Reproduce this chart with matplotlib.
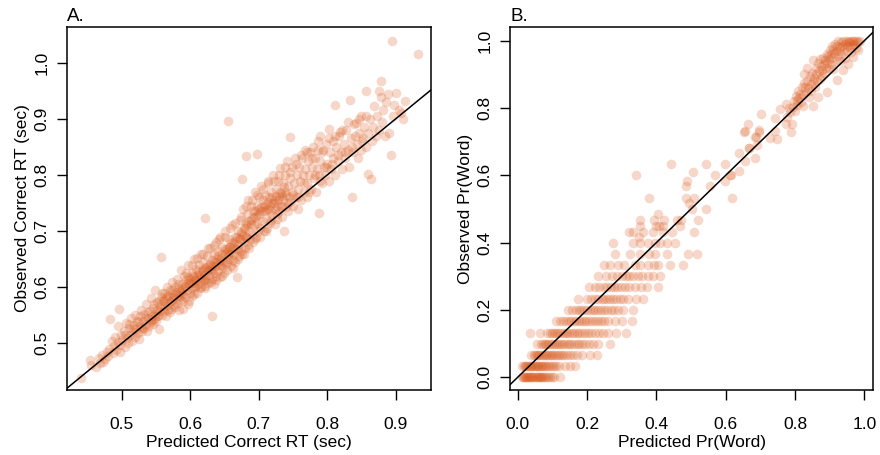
#!/usr/bin/env python3
# Observed vs predicted: correct RT (A) and Pr(Word) (B), identity line.
import matplotlib
matplotlib.use("Agg")
import matplotlib.pyplot as plt
from matplotlib.ticker import FormatStrFormatter
import numpy as np

plt.rcParams["font.family"] = ["Liberation Sans", "DejaVu Sans"]

# ---- Panel A: (predicted RT, observed RT), seconds
a_low = [
    (0.440, 0.439), (0.453, 0.471), (0.455, 0.462), (0.462, 0.458), (0.466, 0.474),
    (0.468, 0.465), (0.473, 0.467), (0.471, 0.480), (0.476, 0.472), (0.478, 0.485),
    (0.480, 0.477), (0.482, 0.490), (0.483, 0.543), (0.485, 0.505), (0.487, 0.482),
    (0.489, 0.495), (0.490, 0.512), (0.492, 0.488), (0.494, 0.503), (0.495, 0.530),
    (0.496, 0.562), (0.497, 0.497), (0.499, 0.515), (0.498, 0.485),
    (0.501, 0.506), (0.503, 0.522), (0.504, 0.494), (0.506, 0.537), (0.507, 0.510),
    (0.509, 0.500), (0.510, 0.528), (0.512, 0.515), (0.513, 0.545), (0.515, 0.505),
    (0.516, 0.521), (0.518, 0.532), (0.519, 0.512), (0.520, 0.550), (0.521, 0.525),
    (0.523, 0.518), (0.524, 0.538), (0.525, 0.508), (0.527, 0.530), (0.528, 0.560),
    (0.529, 0.522),
    (0.531, 0.540), (0.532, 0.527), (0.533, 0.553), (0.535, 0.535), (0.536, 0.570),
    (0.537, 0.522), (0.538, 0.545), (0.540, 0.531), (0.541, 0.558), (0.542, 0.541),
    (0.543, 0.580), (0.544, 0.549), (0.545, 0.535), (0.546, 0.563), (0.547, 0.544),
    (0.548, 0.552), (0.549, 0.595), (0.550, 0.540), (0.551, 0.560), (0.552, 0.573),
    (0.553, 0.548), (0.554, 0.557), (0.555, 0.525), (0.556, 0.566), (0.557, 0.653),
    (0.557, 0.582), (0.558, 0.551), (0.559, 0.562),
]
a_core = [
    (0.560, 0.575), (0.561, 0.557), (0.562, 0.590), (0.563, 0.566), (0.564, 0.548),
    (0.565, 0.580), (0.566, 0.600), (0.567, 0.570), (0.568, 0.560), (0.569, 0.585),
    (0.570, 0.573), (0.571, 0.595), (0.572, 0.562), (0.573, 0.578), (0.574, 0.610),
    (0.575, 0.588), (0.576, 0.568), (0.577, 0.600), (0.578, 0.580), (0.579, 0.592),
    (0.580, 0.572), (0.581, 0.615), (0.582, 0.585), (0.583, 0.560), (0.584, 0.598),
    (0.585, 0.578), (0.586, 0.630), (0.587, 0.592), (0.588, 0.605), (0.589, 0.575),
    (0.590, 0.588), (0.591, 0.620), (0.592, 0.600), (0.593, 0.583), (0.594, 0.612),
    (0.595, 0.595), (0.596, 0.570), (0.597, 0.640), (0.598, 0.605), (0.599, 0.590),
    (0.600, 0.615), (0.601, 0.598), (0.602, 0.625), (0.603, 0.585), (0.604, 0.608),
    (0.605, 0.650), (0.606, 0.618), (0.607, 0.600), (0.608, 0.632), (0.609, 0.612),
    (0.610, 0.590), (0.611, 0.622), (0.612, 0.605), (0.613, 0.640), (0.614, 0.617),
    (0.615, 0.660), (0.616, 0.600), (0.617, 0.628), (0.618, 0.612), (0.619, 0.645),
    (0.620, 0.622), (0.621, 0.603), (0.622, 0.723), (0.622, 0.635), (0.623, 0.615),
    (0.624, 0.655), (0.625, 0.628), (0.626, 0.608), (0.627, 0.640), (0.628, 0.622),
    (0.629, 0.670), (0.630, 0.632), (0.631, 0.615), (0.632, 0.549), (0.632, 0.648),
    (0.633, 0.625), (0.634, 0.605), (0.635, 0.660), (0.636, 0.638), (0.637, 0.620),
    (0.638, 0.680), (0.639, 0.645),
    (0.640, 0.628), (0.641, 0.665), (0.642, 0.640), (0.643, 0.618), (0.644, 0.690),
    (0.645, 0.652), (0.646, 0.635), (0.647, 0.672), (0.648, 0.645), (0.649, 0.625),
    (0.650, 0.660), (0.651, 0.700), (0.652, 0.642), (0.653, 0.668), (0.654, 0.630),
    (0.655, 0.897), (0.655, 0.655), (0.656, 0.685), (0.657, 0.650), (0.658, 0.672),
    (0.659, 0.638), (0.660, 0.662), (0.661, 0.710), (0.662, 0.648), (0.663, 0.678),
    (0.664, 0.660), (0.665, 0.690), (0.666, 0.645), (0.667, 0.668), (0.668, 0.619),
    (0.669, 0.700), (0.670, 0.675), (0.671, 0.655), (0.672, 0.720), (0.673, 0.685),
    (0.674, 0.665), (0.675, 0.792), (0.675, 0.695), (0.676, 0.660), (0.677, 0.740),
    (0.678, 0.680), (0.679, 0.705),
    (0.680, 0.670), (0.681, 0.833), (0.681, 0.715), (0.682, 0.690), (0.683, 0.730),
    (0.684, 0.675), (0.685, 0.755), (0.686, 0.700), (0.687, 0.685), (0.688, 0.720),
    (0.689, 0.745), (0.690, 0.695), (0.691, 0.680), (0.692, 0.735), (0.693, 0.710),
    (0.694, 0.770), (0.695, 0.725), (0.696, 0.690), (0.697, 0.745), (0.698, 0.837),
    (0.698, 0.715), (0.699, 0.700), (0.700, 0.760), (0.701, 0.730), (0.702, 0.690),
    (0.703, 0.742), (0.704, 0.780), (0.705, 0.718), (0.706, 0.755), (0.707, 0.700),
    (0.708, 0.735), (0.709, 0.765), (0.710, 0.722), (0.711, 0.748), (0.712, 0.705),
    (0.713, 0.790), (0.714, 0.740), (0.715, 0.760), (0.716, 0.715), (0.717, 0.735),
    (0.718, 0.770), (0.719, 0.750),
    (0.575, 0.582), (0.583, 0.590), (0.588, 0.596), (0.593, 0.603), (0.596, 0.608),
    (0.601, 0.610), (0.604, 0.620), (0.607, 0.612), (0.611, 0.628), (0.614, 0.622),
    (0.617, 0.617), (0.619, 0.630), (0.623, 0.636), (0.626, 0.630), (0.629, 0.642),
    (0.632, 0.638), (0.635, 0.645), (0.638, 0.650), (0.641, 0.655), (0.644, 0.648),
    (0.647, 0.660), (0.650, 0.668), (0.653, 0.662), (0.656, 0.672), (0.659, 0.678),
    (0.662, 0.672), (0.665, 0.682), (0.668, 0.690), (0.671, 0.685), (0.674, 0.698),
    (0.677, 0.692), (0.680, 0.705), (0.683, 0.710), (0.686, 0.718), (0.689, 0.712),
    (0.692, 0.725), (0.695, 0.735), (0.698, 0.728), (0.701, 0.740), (0.704, 0.735),
    (0.707, 0.745), (0.710, 0.738), (0.713, 0.752), (0.716, 0.745), (0.719, 0.760),
    (0.597, 0.618), (0.609, 0.602), (0.621, 0.612), (0.633, 0.630), (0.645, 0.640),
    (0.657, 0.660), (0.669, 0.668), (0.681, 0.690),
]
a_high = [
    (0.720, 0.728), (0.721, 0.800), (0.722, 0.755), (0.723, 0.712), (0.724, 0.740),
    (0.725, 0.775), (0.726, 0.745), (0.727, 0.722), (0.728, 0.790), (0.729, 0.760),
    (0.730, 0.735), (0.731, 0.812), (0.732, 0.768), (0.733, 0.745), (0.734, 0.725),
    (0.735, 0.785), (0.736, 0.755), (0.737, 0.700), (0.738, 0.800), (0.739, 0.770),
    (0.740, 0.742), (0.741, 0.825), (0.742, 0.780), (0.743, 0.735), (0.744, 0.760),
    (0.745, 0.867), (0.745, 0.795), (0.746, 0.752), (0.748, 0.815), (0.749, 0.770),
    (0.750, 0.745), (0.752, 0.785), (0.753, 0.830), (0.754, 0.760), (0.756, 0.800),
    (0.757, 0.740), (0.758, 0.775), (0.759, 0.815),
    (0.722, 0.750), (0.725, 0.762), (0.728, 0.755), (0.731, 0.770), (0.734, 0.762),
    (0.737, 0.778), (0.740, 0.765),
    (0.760, 0.790), (0.762, 0.755), (0.763, 0.830), (0.764, 0.800), (0.766, 0.770),
    (0.767, 0.845), (0.768, 0.810), (0.770, 0.785), (0.771, 0.760), (0.772, 0.825),
    (0.774, 0.800), (0.775, 0.840), (0.776, 0.775), (0.778, 0.815), (0.779, 0.850),
    (0.780, 0.795), (0.782, 0.830), (0.783, 0.770), (0.785, 0.810), (0.786, 0.845),
    (0.788, 0.732), (0.788, 0.800), (0.789, 0.870), (0.790, 0.825), (0.792, 0.785),
    (0.793, 0.840), (0.795, 0.815), (0.797, 0.800), (0.798, 0.855),
    (0.800, 0.820), (0.802, 0.790), (0.803, 0.882), (0.804, 0.840), (0.806, 0.810),
    (0.808, 0.860), (0.809, 0.830), (0.811, 0.924), (0.812, 0.800), (0.813, 0.850),
    (0.815, 0.825), (0.817, 0.870), (0.819, 0.876), (0.820, 0.840), (0.822, 0.810),
    (0.824, 0.855), (0.826, 0.830), (0.828, 0.880), (0.830, 0.845), (0.832, 0.815),
    (0.833, 0.934), (0.834, 0.865), (0.836, 0.761), (0.837, 0.840), (0.839, 0.890),
    (0.842, 0.892), (0.843, 0.855), (0.845, 0.830), (0.847, 0.875), (0.849, 0.905),
    (0.850, 0.845), (0.852, 0.865), (0.854, 0.885), (0.856, 0.950), (0.857, 0.850),
    (0.859, 0.802), (0.860, 0.875), (0.862, 0.900), (0.864, 0.792), (0.865, 0.860),
    (0.867, 0.885), (0.869, 0.923), (0.871, 0.870), (0.873, 0.905), (0.875, 0.880),
    (0.876, 0.950), (0.878, 0.967), (0.878, 0.938),
    (0.880, 0.895), (0.882, 0.915), (0.884, 0.870), (0.886, 0.930), (0.888, 0.945),
    (0.890, 0.875), (0.893, 0.836), (0.895, 1.039), (0.896, 0.905), (0.898, 0.925),
    (0.901, 0.946), (0.905, 0.915), (0.907, 0.910), (0.910, 0.900), (0.913, 0.932),
    (0.932, 1.015),
]
# further points filling out the width of the band
a_fill = [
    (0.505, 0.515), (0.511, 0.535), (0.517, 0.525), (0.522, 0.540), (0.526, 0.548),
    (0.530, 0.528), (0.534, 0.545), (0.539, 0.555), (0.543, 0.538), (0.547, 0.570),
    (0.551, 0.548), (0.555, 0.575), (0.558, 0.590),
    (0.562, 0.575), (0.566, 0.585), (0.570, 0.555), (0.574, 0.595), (0.578, 0.565),
    (0.582, 0.605), (0.586, 0.585), (0.590, 0.562), (0.594, 0.625), (0.598, 0.575),
    (0.602, 0.640), (0.606, 0.588), (0.610, 0.652), (0.614, 0.598), (0.618, 0.660),
    (0.622, 0.598), (0.626, 0.670), (0.630, 0.610), (0.634, 0.675), (0.638, 0.612),
    (0.642, 0.685),
    (0.646, 0.620), (0.650, 0.690), (0.654, 0.645), (0.658, 0.705), (0.662, 0.635),
    (0.666, 0.715), (0.670, 0.650), (0.674, 0.725), (0.678, 0.660), (0.682, 0.745),
    (0.686, 0.670), (0.690, 0.755), (0.694, 0.685), (0.698, 0.765), (0.702, 0.705),
    (0.706, 0.775), (0.710, 0.700), (0.714, 0.785), (0.718, 0.720),
    (0.722, 0.790), (0.726, 0.730), (0.730, 0.800), (0.734, 0.745), (0.738, 0.815),
    (0.742, 0.750), (0.746, 0.805), (0.750, 0.765), (0.754, 0.820), (0.758, 0.760),
    (0.762, 0.835), (0.766, 0.785), (0.770, 0.840), (0.774, 0.770), (0.778, 0.830),
    (0.782, 0.800), (0.786, 0.860), (0.790, 0.790), (0.794, 0.845), (0.798, 0.815),
    (0.803, 0.865), (0.807, 0.820), (0.812, 0.870), (0.816, 0.835), (0.821, 0.880),
    (0.826, 0.840), (0.831, 0.895), (0.836, 0.850), (0.841, 0.870), (0.846, 0.900),
    (0.851, 0.860), (0.856, 0.905),
]

# ---- Panel B: observed Pr(Word) comes in steps of 1/30; predicted values per row
b_levels = [0.000, 0.033, 0.067, 0.100, 0.133, 0.167, 0.200, 0.233, 0.267, 0.300,
            0.333, 0.367, 0.400, 0.433, 0.467, 0.500, 0.533, 0.567, 0.600, 0.633]
b_rows = [
    [0.012, 0.015, 0.019, 0.022, 0.024, 0.028, 0.031, 0.033, 0.037, 0.040, 0.041,
     0.045, 0.048, 0.052, 0.055, 0.058, 0.061, 0.064, 0.068, 0.071, 0.074, 0.079,
     0.083, 0.088, 0.094, 0.098, 0.104, 0.122],
    [0.014, 0.018, 0.021, 0.025, 0.028, 0.032, 0.035, 0.038, 0.042, 0.045, 0.049,
     0.052, 0.056, 0.059, 0.063, 0.066, 0.070, 0.074, 0.078, 0.082, 0.087, 0.092,
     0.098, 0.104, 0.111, 0.118, 0.136, 0.150, 0.165],
    [0.040, 0.046, 0.050, 0.055, 0.059, 0.063, 0.068, 0.072, 0.076, 0.081, 0.085,
     0.090, 0.095, 0.100, 0.105, 0.110, 0.116, 0.122, 0.128, 0.135, 0.142, 0.150,
     0.160, 0.172, 0.185, 0.209, 0.228],
    [0.057, 0.066, 0.072, 0.078, 0.083, 0.089, 0.094, 0.100, 0.106, 0.112, 0.117,
     0.123, 0.129, 0.135, 0.141, 0.148, 0.155, 0.162, 0.170, 0.178, 0.186, 0.195,
     0.205, 0.218, 0.232, 0.266],
    [0.036, 0.065, 0.085, 0.092, 0.098, 0.105, 0.111, 0.117, 0.123, 0.130, 0.136,
     0.142, 0.149, 0.156, 0.163, 0.170, 0.178, 0.186, 0.194, 0.203, 0.212, 0.222,
     0.234, 0.246, 0.262, 0.285, 0.312],
    [0.110, 0.122, 0.132, 0.140, 0.148, 0.155, 0.162, 0.169, 0.176, 0.183, 0.190,
     0.198, 0.206, 0.214, 0.222, 0.231, 0.240, 0.250, 0.262, 0.280, 0.300, 0.330],
    [0.146, 0.158, 0.168, 0.176, 0.184, 0.192, 0.200, 0.208, 0.216, 0.224, 0.232,
     0.240, 0.249, 0.258, 0.268, 0.278, 0.290, 0.305, 0.334],
    [0.175, 0.200, 0.212, 0.222, 0.232, 0.242, 0.250, 0.258, 0.266, 0.275, 0.284,
     0.294, 0.305, 0.318, 0.340, 0.363],
    [0.206, 0.222, 0.236, 0.248, 0.258, 0.268, 0.278, 0.288, 0.298, 0.310, 0.322,
     0.338, 0.355, 0.372, 0.405],
    [0.233, 0.255, 0.272, 0.288, 0.300, 0.312, 0.322, 0.334, 0.346, 0.360, 0.375,
     0.390, 0.410],
    [0.250, 0.266, 0.290, 0.308, 0.338, 0.352, 0.377, 0.392, 0.405, 0.440, 0.478],
    [0.281, 0.324, 0.353, 0.380, 0.396, 0.430, 0.491, 0.516],
    [0.276, 0.334, 0.353, 0.377, 0.396, 0.411, 0.430, 0.454],
    [0.322, 0.334, 0.362, 0.391, 0.420, 0.446, 0.510],
    [0.353, 0.394, 0.422, 0.459, 0.470, 0.521],
    [0.502, 0.543],
    [0.380, 0.486, 0.510, 0.618],
    [0.486, 0.556],
    [0.340, 0.568, 0.612],
    [0.442, 0.544, 0.597],
]
b_mid = [
    (0.488, 0.584), (0.599, 0.584), (0.399, 0.449), (0.409, 0.449), (0.420, 0.449),
    (0.469, 0.449), (0.351, 0.418), (0.406, 0.484), (0.494, 0.518), (0.639, 0.613),
    (0.505, 0.609), (0.614, 0.601), (0.353, 0.450), (0.684, 0.651), (0.666, 0.682),
    (0.657, 0.643), (0.638, 0.667), (0.667, 0.682), (0.656, 0.732), (0.665, 0.752),
    (0.695, 0.734), (0.685, 0.714), (0.690, 0.689), (0.653, 0.730), (0.687, 0.713),
    (0.696, 0.730),
]
b_high = [
    (0.701, 0.781), (0.742, 0.771), (0.757, 0.798), (0.773, 0.811), (0.776, 0.773),
    (0.773, 0.752), (0.790, 0.753), (0.789, 0.729), (0.747, 0.709), (0.728, 0.711),
    (0.742, 0.732), (0.783, 0.800), (0.787, 0.787), (0.795, 0.803), (0.798, 0.822),
    (0.800, 0.790), (0.802, 0.835), (0.805, 0.823), (0.807, 0.808), (0.810, 0.850),
    (0.812, 0.830), (0.815, 0.843), (0.817, 0.818), (0.820, 0.862), (0.822, 0.840),
    (0.824, 0.807), (0.826, 0.875), (0.829, 0.862), (0.827, 0.902), (0.831, 0.848),
    (0.834, 0.920), (0.836, 0.880), (0.838, 0.860), (0.840, 0.833), (0.842, 0.895),
    (0.845, 0.870), (0.847, 0.852), (0.850, 0.905), (0.853, 0.877), (0.853, 0.807),
    (0.853, 0.942), (0.856, 0.890), (0.858, 0.862), (0.860, 0.920), (0.862, 0.900),
    (0.864, 0.880), (0.867, 0.833), (0.867, 0.935), (0.870, 0.910), (0.872, 0.947),
    (0.873, 0.885), (0.875, 0.925), (0.877, 0.912), (0.879, 0.895), (0.881, 0.950),
    (0.883, 0.930), (0.885, 0.905), (0.887, 0.942), (0.889, 0.918), (0.891, 0.961),
    (0.891, 0.848), (0.893, 0.935), (0.895, 0.955), (0.897, 0.920), (0.899, 0.945),
    (0.901, 0.972), (0.903, 0.930), (0.905, 0.960), (0.906, 0.985), (0.908, 0.948),
    (0.910, 0.975), (0.911, 0.915), (0.913, 0.962), (0.915, 0.990), (0.917, 0.940),
    (0.919, 0.970), (0.920, 0.882), (0.921, 0.985), (0.923, 0.955), (0.925, 1.000),
    (0.927, 0.968), (0.929, 0.940), (0.930, 0.981), (0.932, 0.995), (0.934, 0.960),
    (0.936, 0.985), (0.938, 1.000), (0.939, 0.912), (0.941, 0.975), (0.943, 0.990),
    (0.945, 0.950), (0.947, 1.000), (0.949, 0.985), (0.951, 0.968), (0.953, 0.995),
    (0.954, 0.931), (0.956, 1.000), (0.958, 0.982), (0.960, 0.995), (0.962, 0.965),
    (0.964, 1.000), (0.966, 0.988), (0.968, 0.951), (0.968, 1.000), (0.971, 0.990),
    (0.974, 1.000), (0.977, 0.978), (0.980, 1.000), (0.983, 0.971), (0.983, 0.996),
    (0.987, 1.000),
]

dot = "#DA5A1E"

fig = plt.figure(figsize=(8.8, 4.55), dpi=100)
axA = fig.add_axes([67 / 880, 65 / 455, 364 / 880, 363 / 455])
axB = fig.add_axes([510 / 880, 65 / 455, 363 / 880, 363 / 455])

a_pts = np.array(a_low + a_core + a_high + a_fill)
b_x = [x for row in b_rows for x in row] + [p[0] for p in b_mid + b_high]
b_y = ([lvl for lvl, row in zip(b_levels, b_rows) for _ in row]
       + [p[1] for p in b_mid + b_high])

axA.scatter(a_pts[:, 0], a_pts[:, 1], s=48, color=dot, alpha=0.24, linewidths=0)
axB.scatter(b_x, b_y, s=48, color=dot, alpha=0.24, linewidths=0)

def style(ax, xt, yt, xl, yl, xlab, ylab, tag):
    ax.axline((0, 0), slope=1, color="black", lw=1.1)
    ax.set_xlim(*xl); ax.set_ylim(*yl)
    ax.set_xticks(xt); ax.set_yticks(yt)
    ax.xaxis.set_major_formatter(FormatStrFormatter("%.1f"))
    ax.yaxis.set_major_formatter(FormatStrFormatter("%.1f"))
    ax.tick_params(direction="out", length=7.5, width=1.0, labelsize=12.5, colors="black")
    ax.tick_params(axis="x", pad=12)
    ax.tick_params(axis="y", pad=5)
    for lab in ax.get_yticklabels():
        lab.set_rotation(90); lab.set_va("center")
    for sp in ax.spines.values():
        sp.set_linewidth(1.1)
    ax.set_xlabel(xlab, fontsize=12.5, labelpad=2)
    ax.set_ylabel(ylab, fontsize=12.5, labelpad=3)
    ax.set_title(tag, loc="left", fontsize=13.5, pad=4)

style(axA, [0.5, 0.6, 0.7, 0.8, 0.9], [0.5, 0.6, 0.7, 0.8, 0.9, 1.0],
      (0.420, 0.9515), (0.4168, 1.0636),
      "Predicted Correct RT (sec)", "Observed Correct RT (sec)", "A.")
style(axB, [0.0, 0.2, 0.4, 0.6, 0.8, 1.0], [0.0, 0.2, 0.4, 0.6, 0.8, 1.0],
      (-0.022, 1.025), (-0.0377, 1.0407),
      "Predicted Pr(Word)", "Observed Pr(Word)", "B.")

fig.savefig("out.png", dpi=100)
